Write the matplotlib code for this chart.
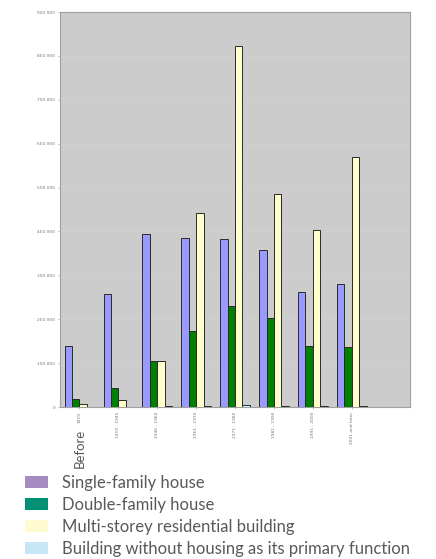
import numpy as np
import matplotlib.pyplot as plt
from matplotlib.patches import Patch

periods = ["1919", "1919 - 1945", "1946 - 1960", "1961 - 1970", "1971 - 1980",
           "1981 - 1990", "1991 - 2000", "2001 and later"]
single = [140000, 257000, 394000, 385000, 383000, 358000, 263000, 280000]
double = [18000, 44000, 105000, 174000, 230000, 203000, 139000, 136000]
multi = [7000, 17000, 104000, 441000, 822000, 486000, 404000, 569000]
other = [1000, 1000, 2000, 3000, 4000, 3000, 2000, 2000]

series_names = ["Single-family house", "Double-family house",
                "Multi-storey residential building",
                "Building without housing as its primary function"]
bar_colors = ["#9999ff", "#008000", "#ffffcc", "#ccffff"]
legend_colors = ["#a68bc0", "#009073", "#fffbd0", "#c6e6f7"]

fig = plt.figure(figsize=(4.36, 5.59), dpi=100)
ax = fig.add_axes([0.1376, 0.2719, 0.803, 0.7066])
ax.set_facecolor("#cccccc")

x = np.arange(len(periods))
w = 0.19
for i, vals in enumerate([single, double, multi, other]):
    ax.bar(x - 1.5 * w + i * w, vals, w, color=bar_colors[i],
           edgecolor="#2a2a2a", linewidth=0.7, zorder=3)

ax.set_xlim(-0.5, 8.5)
ax.set_ylim(0, 900000)
yt = np.arange(0, 900001, 100000)
ax.set_yticks(yt)
ax.set_yticklabels([f"{v:,}".replace(",", " ") for v in yt],
                   fontsize=3.2, color="#777777")
ax.yaxis.grid(True, color="#d2d2d2", linewidth=0.5, zorder=0)
ax.set_xticks(x)
ax.set_xticklabels(periods, rotation=90, fontsize=3.2, color="#777777", va="top")
ax.tick_params(length=1.5, width=0.4, color="#999999", pad=2)
for s in ax.spines.values():
    s.set_color("#a0a0a0")
    s.set_linewidth(0.8)

# larger "Before" word that continues the first tick label
ax.text(0, -0.056, "Before", transform=ax.get_xaxis_transform(),
        rotation=90, ha="center", va="top", fontsize=9.5,
        color="#595959", family="Lato")

handles = [Patch(facecolor=c, edgecolor="none") for c in legend_colors]
fig.legend(handles, series_names, loc="upper left",
           bbox_to_anchor=(0.041, 0.162), frameon=False,
           prop={"family": "Lato", "size": 12}, labelcolor="#595959",
           handlelength=1.38, handleheight=0.72, handletextpad=0.84,
           labelspacing=0.36, borderaxespad=0)

fig.savefig("out.png", dpi=100)
